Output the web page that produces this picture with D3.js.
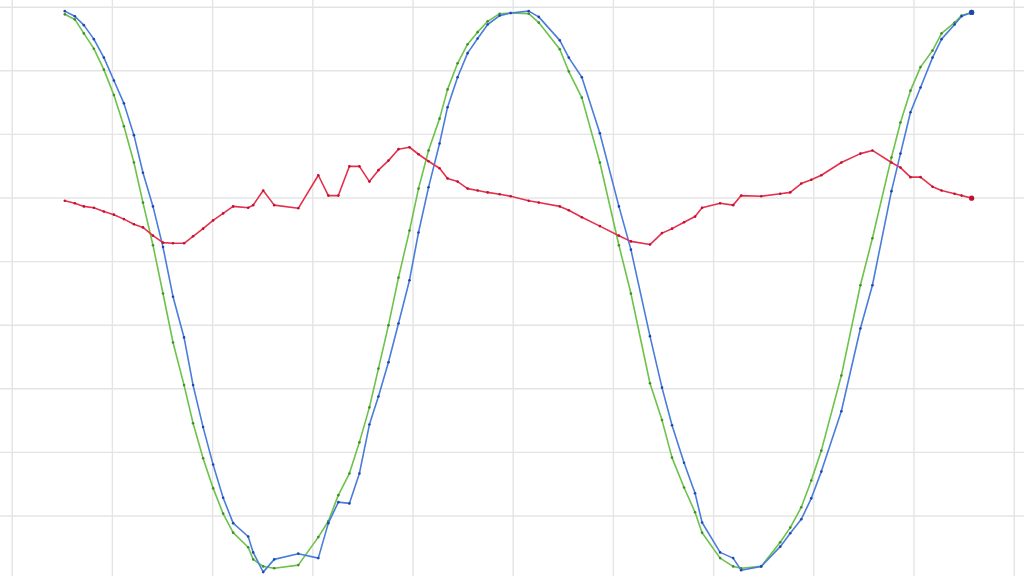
<!DOCTYPE html>
<html>
<head>
<meta charset="utf-8">
<script src="https://cdn.jsdelivr.net/npm/d3@7"></script>
<style>
  html, body { margin: 0; padding: 0; background: #ffffff; }
  svg { display: block; }
</style>
</head>
<body>
<svg id="chart" width="1024" height="576"></svg>
<script>
// Shared sample times (irregular sampling)
const times = [5.3, 6.3, 7.2, 8.2, 9.2, 10.2, 11.2, 12.2, 13.1, 14.1,
  15.1, 16.1, 17.2, 18.1, 19.1, 20.1, 21.1, 22.1, 23.6, 24.1,
  25.1, 26.2, 28.6, 30.6, 31.6, 32.6, 33.7, 34.7, 35.7, 36.6,
  37.6, 38.6, 39.7, 40.6, 41.6, 42.7, 43.5, 44.5, 45.5, 46.5,
  47.5, 48.7, 49.8, 51.6, 52.6, 54.7, 55.6, 56.9, 58.7, 60.6,
  61.8, 63.7, 64.9, 65.9, 67.1, 68.2, 68.9, 70.7, 72.0, 72.8,
  74.8, 76.7, 77.7, 78.8, 79.8, 80.8, 82.8, 84.7, 85.9, 87.8,
  88.7, 89.7, 90.7, 91.9, 92.8, 94.1, 94.8, 95.8];

const blueValues = [3.93, 3.85, 3.71, 3.49, 3.20, 2.84, 2.48, 1.98, 1.39, 0.86,
  0.22, -0.56, -1.20, -1.95, -2.61, -3.20, -3.72, -4.12, -4.33, -4.58,
  -4.89, -4.69, -4.60, -4.67, -4.12, -3.79, -3.81, -3.34, -2.57, -2.13,
  -1.59, -0.98, -0.30, 0.45, 1.16, 1.85, 2.42, 2.89, 3.27, 3.50,
  3.72, 3.86, 3.90, 3.93, 3.84, 3.47, 3.20, 2.89, 2.01, 0.86,
  0.18, -1.18, -1.99, -2.58, -3.17, -3.65, -4.11, -4.58, -4.67, -4.86,
  -4.80, -4.49, -4.28, -4.06, -3.73, -3.31, -2.36, -1.06, -0.38, 1.10,
  1.69, 2.34, 2.73, 3.20, 3.49, 3.72, 3.85, 3.91];

const greenValues = [3.88, 3.80, 3.58, 3.34, 3.01, 2.61, 2.12, 1.55, 0.92, 0.25,
  -0.51, -1.28, -1.95, -2.55, -3.10, -3.57, -3.97, -4.27, -4.50, -4.69,
  -4.80, -4.83, -4.78, -4.34, -4.09, -3.68, -3.34, -2.85, -2.30, -1.69,
  -1.01, -0.26, 0.48, 1.14, 1.74, 2.24, 2.70, 3.11, 3.41, 3.60,
  3.77, 3.89, 3.90, 3.89, 3.75, 3.33, 2.98, 2.57, 1.55, 0.25,
  -0.51, -1.92, -2.50, -3.09, -3.56, -3.95, -4.27, -4.67, -4.80, -4.83,
  -4.80, -4.42, -4.19, -3.87, -3.45, -2.98, -1.80, -0.38, 0.36, 1.63,
  2.18, 2.68, 3.05, 3.31, 3.58, 3.75, 3.86, 3.91];

const redValues = [0.95, 0.91, 0.86, 0.84, 0.78, 0.73, 0.66, 0.58, 0.53, 0.40,
  0.29, 0.28, 0.28, 0.39, 0.51, 0.64, 0.75, 0.86, 0.84, 0.88,
  1.11, 0.88, 0.83, 1.35, 1.03, 1.03, 1.49, 1.49, 1.25, 1.43,
  1.58, 1.76, 1.79, 1.68, 1.57, 1.46, 1.30, 1.25, 1.14, 1.11,
  1.08, 1.05, 1.02, 0.95, 0.92, 0.86, 0.80, 0.69, 0.55, 0.40,
  0.31, 0.26, 0.44, 0.51, 0.61, 0.70, 0.84, 0.91, 0.88, 1.03,
  1.02, 1.06, 1.08, 1.22, 1.28, 1.35, 1.55, 1.69, 1.74, 1.55,
  1.47, 1.32, 1.32, 1.17, 1.11, 1.06, 1.03, 0.99];

const xTicks = [0, 10, 20, 30, 40, 50, 60, 70, 80, 90, 100];
const yTicks = [-5, -4, -3, -2, -1, 0, 1, 2, 3, 4];

const seriesList = [
  { name: "green", values: greenValues, line: "#6cc24a", dot: "#3f8f2a" },
  { name: "blue",  values: blueValues,  line: "#4a7ddb", dot: "#1f46b0" },
  { name: "red",   values: redValues,   line: "#e5304d", dot: "#c01030" }
];

const svg = d3.select("#chart");
const x = d3.scaleLinear().domain([0, 100]).range([11.7, 1013.7]);
const y = d3.scaleLinear().domain([-5, 4]).range([579.1, 6.7]);

// Grid via axes
const grid = svg.append("g").attr("class", "grid");
grid.append("g")
  .call(d3.axisLeft(y).tickValues(yTicks).tickSize(-1024).tickFormat(""))
  .attr("transform", "translate(1024,0)")
  .call(g => g.select(".domain").remove())
  .call(g => g.selectAll("line").attr("stroke", "#e4e4e4").attr("stroke-width", 1.4).attr("transform", null))
  .attr("transform", "translate(0,0)")
  .call(g => g.selectAll(".tick line").attr("x1", 0).attr("x2", 1024));
grid.append("g")
  .call(d3.axisBottom(x).tickValues(xTicks).tickSize(576).tickFormat(""))
  .call(g => g.select(".domain").remove())
  .call(g => g.selectAll(".tick line").attr("stroke", "#e4e4e4").attr("stroke-width", 1.4).attr("y1", 0).attr("y2", 576));

const line = d3.line()
  .x((d, i) => x(times[i]))
  .y(d => y(d));

seriesList.forEach(s => {
  const g = svg.append("g").attr("class", "series-" + s.name);
  g.append("path")
    .datum(s.values)
    .attr("fill", "none")
    .attr("stroke", s.line)
    .attr("stroke-width", 1.6)
    .attr("stroke-linejoin", "round")
    .attr("d", line);
  g.selectAll("circle")
    .data(s.values)
    .join("circle")
    .attr("cx", (d, i) => x(times[i]))
    .attr("cy", d => y(d))
    .attr("r", (d, i) => i === s.values.length - 1 ? 2.6 : 1.3)
    .attr("fill", s.dot);
});
</script>
</body>
</html>
